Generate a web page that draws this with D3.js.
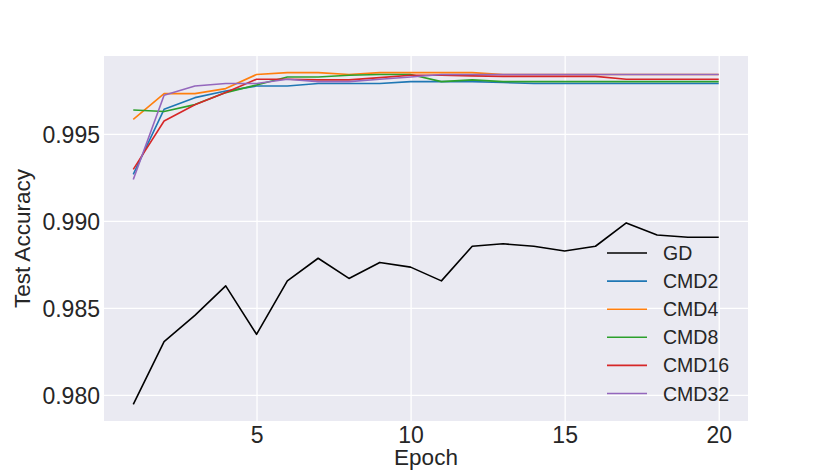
<!DOCTYPE html>
<html>
<head>
<meta charset="utf-8">
<script src="https://cdn.jsdelivr.net/npm/d3@7"></script>
<style>
  body { margin: 0; background: #fff; }
  text { font-family: "Liberation Sans", Arial, sans-serif; fill: #262626; }
</style>
</head>
<body>
<div id="chart"></div>
<script>
// epochs 1..20
var epochs = d3.range(1, 21);
var gd = [0.97945, 0.98306, 0.98457, 0.98626, 0.98348, 0.98655, 0.98785, 0.98669, 0.98761, 0.98734,
          0.98655, 0.98854, 0.98868, 0.98854, 0.98827, 0.98854, 0.98988, 0.98919, 0.98906, 0.98906];
var cmd2 = [0.99267, 0.99641, 0.99708, 0.99746, 0.99775, 0.99775, 0.99789, 0.99789, 0.99789, 0.99800,
            0.99800, 0.99800, 0.99795, 0.99789, 0.99789, 0.99789, 0.99789, 0.99789, 0.99789, 0.99789];
var cmd4 = [0.99583, 0.99731, 0.99731, 0.99760, 0.99841, 0.99852, 0.99852, 0.99841, 0.99852, 0.99852,
            0.99852, 0.99852, 0.99841, 0.99841, 0.99841, 0.99841, 0.99841, 0.99841, 0.99841, 0.99841];
var cmd8 = [0.99637, 0.99628, 0.99668, 0.99737, 0.99781, 0.99827, 0.99827, 0.99837, 0.99841, 0.99841,
            0.99800, 0.99810, 0.99800, 0.99800, 0.99800, 0.99800, 0.99800, 0.99800, 0.99800, 0.99800];
var cmd16 = [0.99296, 0.99574, 0.99667, 0.99737, 0.99814, 0.99814, 0.99810, 0.99810, 0.99823, 0.99837,
             0.99837, 0.99833, 0.99830, 0.99830, 0.99830, 0.99830, 0.99814, 0.99814, 0.99814, 0.99814];
var cmd32 = [0.99238, 0.99722, 0.99775, 0.99789, 0.99789, 0.99814, 0.99800, 0.99800, 0.99814, 0.99827,
             0.99841, 0.99841, 0.99841, 0.99841, 0.99841, 0.99841, 0.99841, 0.99841, 0.99841, 0.99841];

var seriesNames = ["GD", "CMD2", "CMD4", "CMD8", "CMD16", "CMD32"];
var seriesValues = [gd, cmd2, cmd4, cmd8, cmd16, cmd32];
var colors = ["#000000", "#1f77b4", "#ff7f0e", "#2ca02c", "#d62728", "#9467bd"];
var xTicks = [5, 10, 15, 20];
var yTicks = [0.980, 0.985, 0.990, 0.995];

var w = 831, h = 474;
var margin = { left: 104, right: 83, top: 56, bottom: 53 };

var svg = d3.select("#chart").append("svg")
    .attr("width", w)
    .attr("height", h);

// matplotlib-style 5% margins
var xMin = d3.min(epochs), xMax = d3.max(epochs);
var xPad = (xMax - xMin) * 0.05;
var allVals = d3.merge(seriesValues);
var yMin = d3.min(allVals), yMax = d3.max(allVals);
var yPad = (yMax - yMin) * 0.05;

var x = d3.scaleLinear()
    .domain([xMin - xPad, xMax + xPad])
    .range([margin.left, w - margin.right]);
var y = d3.scaleLinear()
    .domain([yMin - yPad, yMax + yPad])
    .range([h - margin.bottom, margin.top]);

svg.append("rect")
    .attr("x", margin.left)
    .attr("y", margin.top)
    .attr("width", w - margin.left - margin.right)
    .attr("height", h - margin.top - margin.bottom)
    .attr("fill", "#eaeaf2");

// grid
var xAxis = d3.axisBottom(x).tickValues(xTicks).tickSize(-(h - margin.top - margin.bottom)).tickPadding(6);
var yAxis = d3.axisLeft(y).tickValues(yTicks).tickSize(-(w - margin.left - margin.right)).tickPadding(4)
    .tickFormat(d3.format(".3f"));

var gx = svg.append("g")
    .attr("transform", "translate(0," + (h - margin.bottom) + ")")
    .call(xAxis);
var gy = svg.append("g")
    .attr("transform", "translate(" + margin.left + ",0)")
    .call(yAxis);

[gx, gy].forEach(function (g) {
    g.select(".domain").remove();
    g.selectAll(".tick line").attr("stroke", "#ffffff").attr("stroke-width", 1.3);
    g.selectAll(".tick text").attr("font-size", 23).attr("fill", "#262626");
});
gy.selectAll(".tick text").attr("dy", "0.36em");

// lines
var line = d3.line()
    .x(function (d, i) { return x(epochs[i]); })
    .y(function (d) { return y(d); });

svg.append("g").selectAll("path")
    .data(seriesValues)
    .enter().append("path")
    .attr("d", line)
    .attr("fill", "none")
    .attr("stroke", function (d, i) { return colors[i]; })
    .attr("stroke-width", 1.6)
    .attr("stroke-linejoin", "round");

// axis labels
svg.append("text")
    .attr("x", (margin.left + w - margin.right) / 2)
    .attr("y", 465)
    .attr("text-anchor", "middle")
    .attr("font-size", 22.5)
    .text("Epoch");

svg.append("text")
    .attr("transform", "translate(30," + ((margin.top + h - margin.bottom) / 2) + ") rotate(-90)")
    .attr("text-anchor", "middle")
    .attr("font-size", 22.5)
    .text("Test Accuracy");

// legend
var legend = svg.append("g").attr("transform", "translate(607,253)");
var items = legend.selectAll("g")
    .data(seriesNames)
    .enter().append("g")
    .attr("transform", function (d, i) { return "translate(0," + (i * 28.1) + ")"; });
items.append("line")
    .attr("x1", 0).attr("x2", 40)
    .attr("stroke", function (d, i) { return colors[i]; })
    .attr("stroke-width", 1.6);
items.append("text")
    .attr("x", 56)
    .attr("dy", "0.36em")
    .attr("font-size", 19.5)
    .text(function (d) { return d; });
</script>
</body>
</html>
